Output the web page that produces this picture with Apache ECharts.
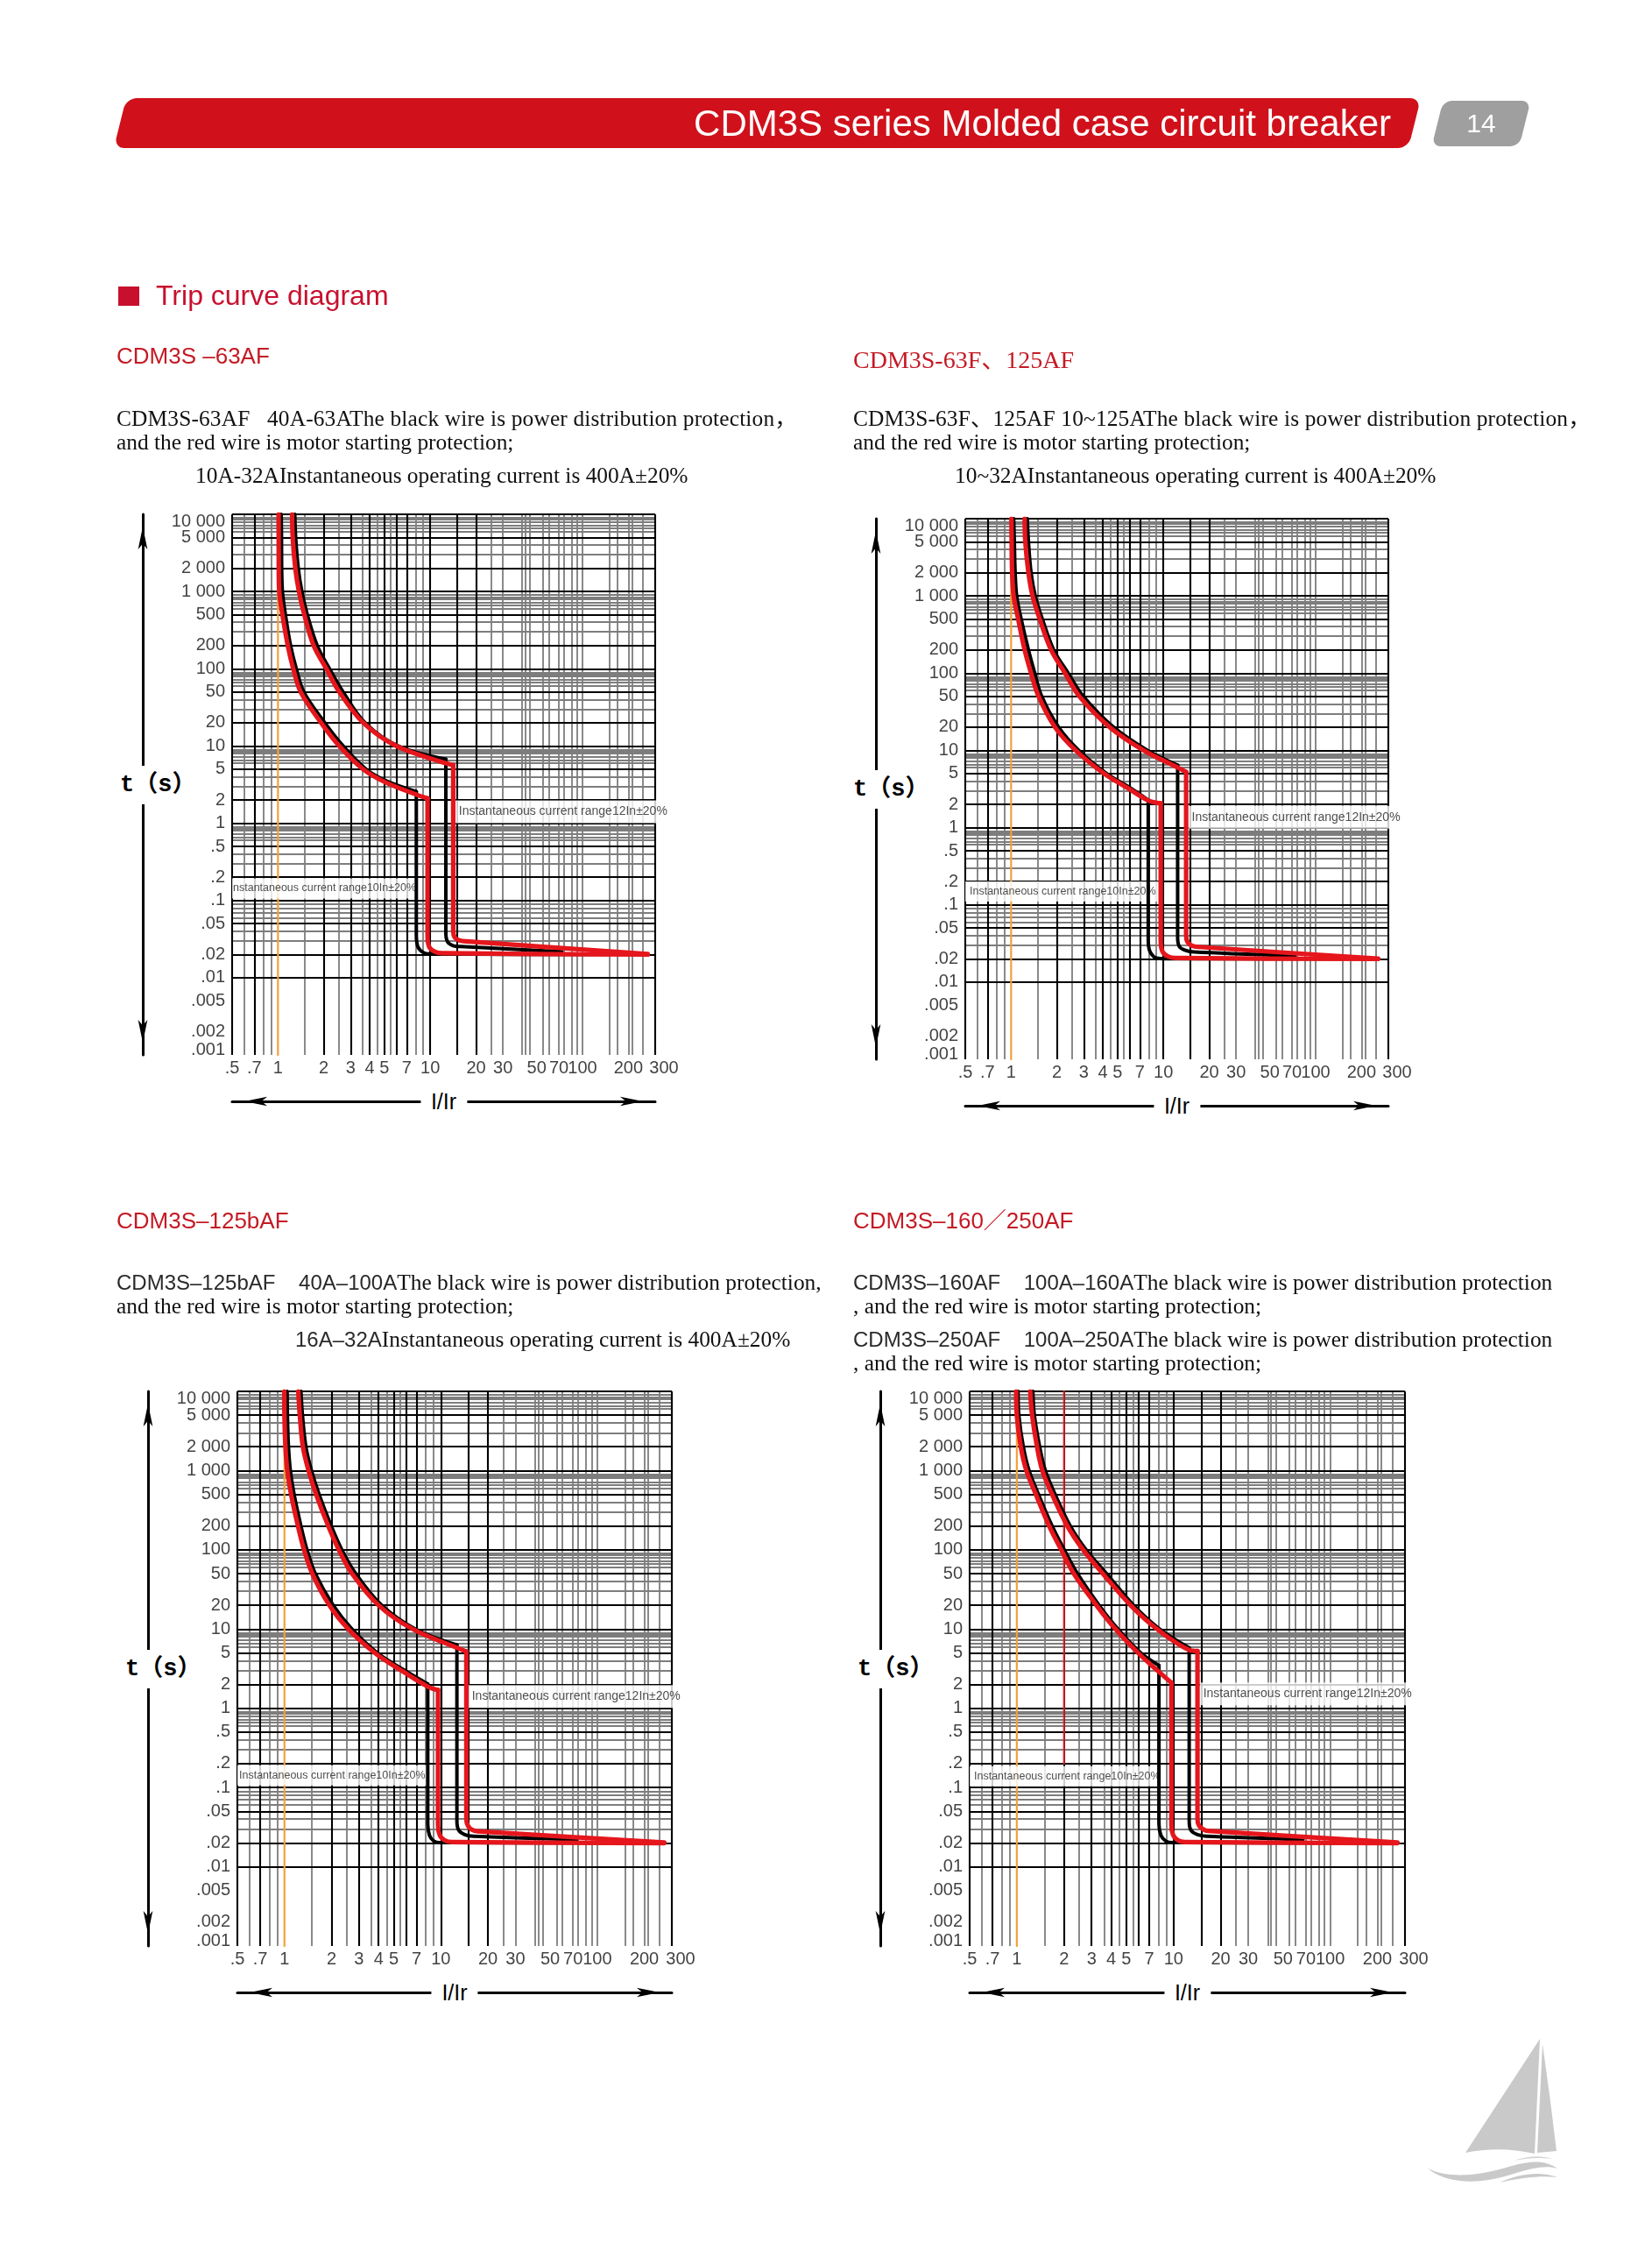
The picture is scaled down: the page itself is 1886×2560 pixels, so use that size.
<!DOCTYPE html>
<html>
<head>
<meta charset="utf-8">
<script src="https://cdn.jsdelivr.net/npm/echarts@6/dist/echarts.min.js"></script>
<style>
html,body{margin:0;padding:0;background:#fff;}
body{width:1886px;height:2560px;position:relative;overflow:hidden;}
#chart{position:absolute;left:0;top:0;width:1886px;height:2560px;z-index:1;}
.t{position:absolute;white-space:pre;line-height:30px;height:30px;z-index:3;}
.serif{font-family:'Liberation Serif','Noto Sans CJK SC',serif;font-size:25.4px;color:#111;}
.sans{font-family:'Liberation Sans','Noto Sans CJK SC',sans-serif;}
.ds{font-family:'Liberation Sans','Noto Sans CJK SC',sans-serif;font-size:24px;color:#2a2a2a;}
.red{color:#c41a24;}
.wide{letter-spacing:0.15px;}
.banner{position:absolute;left:137px;top:112px;width:1478px;height:57px;background:#d0111b;border-radius:12px;transform:skewX(-14deg);z-index:2;}
.bannerText{position:absolute;left:0;width:1588px;top:112px;height:57px;line-height:57px;text-align:right;color:#fff;font-family:'Liberation Sans',sans-serif;font-size:42px;z-index:3;white-space:pre;}
.tab{position:absolute;left:1641px;top:115px;width:100px;height:52px;background:#9f9f9f;border-radius:10px;transform:skewX(-14deg);z-index:2;}
.tabText{position:absolute;left:1641px;width:100px;top:115px;height:52px;line-height:52px;text-align:center;color:#fff;font-family:'Liberation Sans',sans-serif;font-size:30px;z-index:3;}
.sq{position:absolute;left:135px;top:327px;width:24px;height:22px;background:#c8102e;z-index:3;}
.axname{position:absolute;z-index:4;background:#fff;white-space:pre;color:#000;}
.iname{font-family:'Liberation Sans',sans-serif;font-size:25px;height:32px;line-height:32px;padding:0 12px;transform:translate(-50%,-50%);}
.tname{font-family:'Liberation Mono','Noto Sans CJK SC',monospace;font-weight:bold;font-size:27px;height:44px;line-height:44px;padding:0 2px;transform:translateY(-50%);}
#logo{position:absolute;left:1600px;top:2300px;z-index:3;}
</style>
</head>
<body>
<div id="chart"></div>

<div class="banner"></div>
<div class="bannerText">CDM3S series Molded case circuit breaker</div>
<div class="tab"></div>
<div class="tabText">14</div>

<div class="sq"></div>
<div class="t sans" style="left:178px;top:317px;height:40px;line-height:40px;font-size:32px;color:#c8102e;">Trip curve diagram</div>

<div class="t sans red" style="left:133px;top:391px;font-size:26px;">CDM3S –63AF</div>
<div class="t serif wide" style="left:133px;top:462px;">CDM3S-63AF   40A-63AThe black wire is power distribution protection，</div>
<div class="t serif" style="left:133px;top:489px;">and the red wire is motor starting protection;</div>
<div class="t serif" style="left:223px;top:527px;">10A-32AInstantaneous operating current is 400A±20%</div>

<div class="t serif red" style="left:974px;top:395px;font-size:28px;height:32px;line-height:32px;color:#c41a24;">CDM3S-63F、125AF</div>
<div class="t serif wide" style="left:974px;top:462px;">CDM3S-63F、125AF 10~125AThe black wire is power distribution protection，</div>
<div class="t serif" style="left:974px;top:489px;">and the red wire is motor starting protection;</div>
<div class="t serif" style="left:1090px;top:527px;">10~32AInstantaneous operating current is 400A±20%</div>

<div class="t sans red" style="left:133px;top:1378px;font-size:26px;">CDM3S–125bAF</div>
<div class="t serif" style="left:133px;top:1448px;"><span class="ds">CDM3S–125bAF    40A–100A</span>The black wire is power distribution protection,</div>
<div class="t serif" style="left:133px;top:1475px;">and the red wire is motor starting protection;</div>
<div class="t serif" style="left:337px;top:1513px;"><span class="ds">16A–32A</span>Instantaneous operating current is 400A±20%</div>

<div class="t sans red" style="left:974px;top:1378px;font-size:26px;">CDM3S–160／250AF</div>
<div class="t serif" style="left:974px;top:1448px;"><span class="ds">CDM3S–160AF    100A–160A</span>The black wire is power distribution protection</div>
<div class="t serif" style="left:974px;top:1475px;">, and the red wire is motor starting protection;</div>
<div class="t serif" style="left:974px;top:1513px;"><span class="ds">CDM3S–250AF    100A–250A</span>The black wire is power distribution protection</div>
<div class="t serif" style="left:974px;top:1540px;">, and the red wire is motor starting protection;</div>

<svg id="logo" width="200" height="220" viewBox="0 0 200 220">
  <path d="M158,27 L73,157 Q112,149 152,158 Z" fill="#c9c9c9"/>
  <path d="M161,33 L155,157 L177,155 Q170,95 161,33 Z" fill="#c9c9c9"/>
  <path d="M30,175 C55,195 95,192 128,181 C150,174 166,171 178,175 C166,166 150,165 126,172 C92,182 58,188 30,175 Z" fill="#c9c9c9"/>
  <path d="M112,191 C135,180 160,178 178,185 C160,183 138,185 112,191 Z" fill="#c9c9c9"/>
  <path d="M128,166 C145,160 160,160 172,164 C158,162 145,163 128,166 Z" fill="#d4d4d4"/>
</svg>

<script>
// ---------- axis ticks and grid values ----------
const xTickValues = [0.5, 0.7, 1, 2, 3, 4, 5, 7, 10, 20, 30, 50, 70, 100, 200, 300];
const xTickLabels = ['.5', '.7', '1', '2', '3', '4', '5', '7', '10', '20', '30', '50', '70', '100', '200', '300'];
const yTickValues = [10000, 5000, 2000, 1000, 500, 200, 100, 50, 20, 10, 5, 2, 1, 0.5, 0.2, 0.1, 0.05, 0.02, 0.01, 0.005, 0.002, 0.001];
const yTickLabels = ['10 000', '5 000', '2 000', '1 000', '500', '200', '100', '50', '20', '10', '5', '2', '1', '.5', '.2', '.1', '.05', '.02', '.01', '.005', '.002', '.001'];
const xGridMajor = [0.5, 0.7, 2, 3, 4, 5, 6, 7, 10, 15, 20, 300];
const xGridMinor = [0.6, 0.8, 0.9, 1.5, 2.5, 3.6, 4.5, 5.5, 8, 9, 25, 30, 40, 42, 45, 55, 60, 70, 75, 85, 92, 100, 150, 170, 200, 212, 250];
const yMinorSteps = [0.9, 0.85, 0.8, 0.72, 0.66, 0.6, 0.4, 0.3];
const yDecadeTops = [10000, 1000, 100, 10, 1, 0.1, 0.01];
const yGridMajor = yTickValues;
const yGridMinor = yDecadeTops.flatMap(t => yMinorSteps.map(s => +(t * s).toPrecision(6)));
const ratedLine = [[1, 0.001], [1, 10000]];
const c4MarkerLine = [[2, 10000], [2, 0.2]];

// ---------- chart 1: CDM3S-63AF ----------
const c1LowBlack = [[1.05,10000],[1.055,5000],[1.058,2000],[1.07,1000],[1.12,500],[1.21,200],[1.32,100],[1.48,50],[2.03,20],[2.68,10],[3.8,5],[5.2,3.5],[8.1,2.57]];
const c1LowRed = [[1.01,10000],[1.011,5000],[1.012,2000],[1.02,1000],[1.07,500],[1.16,200],[1.26,100],[1.41,50],[1.92,20],[2.53,10],[3.63,5],[5.06,3.4],[8.1,2.35],[9.6,2.1]];
const c1HighBlack = [[1.29,10000],[1.307,5000],[1.36,2000],[1.436,1000],[1.56,500],[1.81,200],[2.18,100],[2.68,50],[3.73,20],[6.15,10],[12.66,6.73]];
const c1HighRed = [[1.24,10000],[1.25,5000],[1.30,2000],[1.374,1000],[1.49,500],[1.715,200],[2.08,100],[2.53,50],[3.63,20],[5.98,10],[12.6,6.0],[14.15,5.65]];
const c1LowBlackInst = [[8.1,2.57],[8.1,0.036],[8.3,0.025],[9.0,0.0212],[9.9,0.0203],[150,0.02]];
const c1LowRedInst = [[9.6,2.1],[9.6,0.034],[9.85,0.025],[10.7,0.0218],[12,0.0208],[268,0.0199]];
const c1HighBlackInst = [[12.66,6.73],[12.66,0.038],[13.0,0.029],[14.1,0.026],[15.8,0.0253],[73,0.0217]];
const c1HighRedInst = [[14.15,5.65],[14.15,0.04],[14.5,0.033],[15.5,0.0305],[17.2,0.0295],[268,0.0203]];
const c1Notes = [
  {x: 0.5, y: 0.143, text: 'nstantaneous current range10In±20%'},
  {x: 14.6, y: 1.41, text: 'Instantaneous current range12In±20%'}
];

// ---------- chart 2: CDM3S-63F / 125AF ----------
const c2LowBlack = [[1.04,10000],[1.05,5000],[1.063,2000],[1.088,1000],[1.165,500],[1.30,200],[1.43,100],[1.59,50],[2.05,20],[2.78,10],[4.24,5],[6.08,3.25],[7.95,2.27]];
const c2LowRed = [[1.005,10000],[1.008,5000],[1.016,2000],[1.039,1000],[1.113,500],[1.227,200],[1.352,100],[1.515,50],[1.94,20],[2.65,10],[4.08,5],[5.91,3.2],[7.95,2.25],[9.6,2.06]];
const c2HighBlack = [[1.277,10000],[1.30,5000],[1.352,2000],[1.44,1000],[1.605,500],[1.905,200],[2.37,100],[2.98,50],[4.7,20],[7.86,10],[12.4,6.44]];
const c2HighRed = [[1.227,10000],[1.24,5000],[1.30,2000],[1.383,1000],[1.542,500],[1.83,200],[2.26,100],[2.81,50],[4.44,20],[7.43,10],[12.4,6.0],[14.1,5.25]];
const c2LowBlackInst = [[7.95,2.27],[7.95,0.035],[8.15,0.025],[8.8,0.0208],[9.9,0.0201],[150,0.02]];
const c2LowRedInst = [[9.6,2.06],[9.6,0.034],[9.85,0.025],[10.7,0.0215],[12,0.0205],[257,0.0199]];
const c2HighBlackInst = [[12.4,6.44],[12.4,0.038],[12.7,0.029],[13.8,0.026],[16,0.0245],[73,0.0218]];
const c2HighRedInst = [[14.1,5.25],[14.1,0.04],[14.4,0.033],[15.4,0.0295],[17,0.0285],[257,0.0201]];
const c2Notes = [
  {x: 0.5, y: 0.149, text: 'Instantaneous current range10In±20%'},
  {x: 14.55, y: 1.36, text: 'Instantaneous current range12In±20%'}
];

// ---------- chart 3: CDM3S-125bAF ----------
const c3LowBlack = [[1.04,10000],[1.045,5000],[1.061,2000],[1.091,1000],[1.153,500],[1.275,200],[1.394,100],[1.576,50],[2.048,20],[2.705,10],[3.93,5],[5.81,3.05],[8.25,2.03]];
const c3LowRed = [[0.998,10000],[1.0,5000],[1.015,2000],[1.043,1000],[1.103,500],[1.22,200],[1.334,100],[1.507,50],[1.937,20],[2.56,10],[3.78,5],[5.585,3.0],[8.25,1.88],[9.59,1.70]];
const c3HighBlack = [[1.275,10000],[1.304,5000],[1.371,2000],[1.49,1000],[1.666,500],[1.992,200],[2.328,100],[2.86,50],[4.18,20],[6.865,10],[12.67,6.29]];
const c3HighRed = [[1.226,10000],[1.254,5000],[1.312,2000],[1.426,1000],[1.594,500],[1.905,200],[2.227,100],[2.705,50],[3.995,20],[6.6,10],[12.67,5.8],[14.56,5.22]];
const c3LowBlackInst = [[8.25,2.03],[8.25,0.035],[8.45,0.025],[9.0,0.0212],[9.8,0.0202],[150,0.02]];
const c3LowRedInst = [[9.59,1.70],[9.59,0.034],[9.85,0.025],[10.6,0.0215],[11.8,0.0205],[268,0.0199]];
const c3HighBlackInst = [[12.67,6.29],[12.67,0.038],[13.0,0.029],[14.2,0.0255],[16.1,0.0243],[74,0.022]];
const c3HighRedInst = [[14.56,5.22],[14.56,0.04],[14.9,0.033],[15.8,0.0293],[17.2,0.028],[268,0.0202]];
const c3Notes = [
  {x: 0.5, y: 0.142, text: 'Instantaneous current range10In±20%'},
  {x: 15.0, y: 1.41, text: 'Instantaneous current range12In±20%'}
];

// ---------- chart 4: CDM3S-160/250AF ----------
const c4LowBlack = [[1.018,10000],[1.03,5000],[1.10,2000],[1.197,1000],[1.376,500],[1.68,200],[2.01,100],[2.44,50],[3.35,20],[4.42,10],[6.18,5],[8.07,3.47]];
const c4LowRed = [[0.991,10000],[1.0,5000],[1.06,2000],[1.151,1000],[1.324,500],[1.608,200],[1.921,100],[2.31,50],[3.22,20],[4.26,10],[5.94,5],[8.07,2.88],[9.69,2.1]];
const c4HighBlack = [[1.266,10000],[1.294,5000],[1.399,2000],[1.521,1000],[1.757,500],[2.195,200],[2.77,100],[3.74,50],[5.56,20],[8.16,10],[12.59,5.79]];
const c4HighRed = [[1.218,10000],[1.252,5000],[1.346,2000],[1.455,1000],[1.68,500],[2.10,200],[2.65,100],[3.54,50],[5.32,20],[7.85,10],[12.59,5.45],[14.22,5.28]];
const c4LowBlackInst = [[8.07,3.47],[8.07,0.035],[8.3,0.025],[8.9,0.0212],[9.8,0.0202],[150,0.02]];
const c4LowRedInst = [[9.69,2.1],[9.69,0.034],[9.95,0.025],[10.7,0.0215],[11.8,0.0205],[268,0.0199]];
const c4HighBlackInst = [[12.59,5.79],[12.59,0.038],[12.9,0.029],[14.2,0.0255],[16.2,0.0243],[67,0.0221]];
const c4HighRedInst = [[14.22,5.28],[14.22,0.04],[14.55,0.033],[15.6,0.0293],[16.6,0.0283],[268,0.0202]];
const c4Notes = [
  {x: 0.5, y: 0.139, text: 'Instantaneous current range10In±20%'},
  {x: 14.7, y: 1.52, text: 'Instantaneous current range12In±20%'}
];

// ---------- layout (pixels) ----------
const grids = [
  {left: 265, top: 587, width: 483, height: 617},
  {left: 1102, top: 592, width: 483, height: 617},
  {left: 271, top: 1588, width: 496, height: 633},
  {left: 1107, top: 1588, width: 497, height: 633}
];
const lowNotePadLeft = [1, 5, 2, 5];
const ARROW_X_OFFSET = 53;
const ARROW_Y_OFFSET = 102;

const charts = [
  {low: [c1LowBlack, c1LowRed], high: [c1HighBlack, c1HighRed], inst: [c1LowBlackInst, c1LowRedInst, c1HighBlackInst, c1HighRedInst], notes: c1Notes, marker: null},
  {low: [c2LowBlack, c2LowRed], high: [c2HighBlack, c2HighRed], inst: [c2LowBlackInst, c2LowRedInst, c2HighBlackInst, c2HighRedInst], notes: c2Notes, marker: null},
  {low: [c3LowBlack, c3LowRed], high: [c3HighBlack, c3HighRed], inst: [c3LowBlackInst, c3LowRedInst, c3HighBlackInst, c3HighRedInst], notes: c3Notes, marker: null},
  {low: [c4LowBlack, c4LowRed], high: [c4HighBlack, c4HighRed], inst: [c4LowBlackInst, c4LowRedInst, c4HighBlackInst, c4HighRedInst], notes: c4Notes, marker: c4MarkerLine}
];

const BLACK = '#000000';
const RED = '#e5161c';
const SANS = "'Liberation Sans', Arial, sans-serif";

const option = {animation: false, grid: [], xAxis: [], yAxis: [], series: []};

function noAxisParts() {
  return {axisTick: {show: false}, axisLabel: {show: false}, splitLine: {show: false}, minorTick: {show: false}, minorSplitLine: {show: false}};
}

function gridLines(xi, yi, xs, ys, color, width, z) {
  return {
    type: 'line', xAxisIndex: xi, yAxisIndex: yi, data: [], silent: true, z: z,
    markLine: {
      silent: true, animation: false, z: z, symbol: ['none', 'none'],
      label: {show: false}, emphasis: {disabled: true},
      lineStyle: {color: color, width: width, type: 'solid', opacity: 1},
      data: xs.map(v => ({xAxis: v})).concat(ys.map(v => ({yAxis: v})))
    }
  };
}

function curve(xi, yi, pts, color, width, smooth, z) {
  return {
    type: 'line', xAxisIndex: xi, yAxisIndex: yi, data: pts, smooth: smooth,
    symbol: 'none', silent: true, z: z, animation: false,
    lineStyle: {color: color, width: width, cap: 'round', join: 'round'}
  };
}

grids.forEach((g, i) => {
  const d = charts[i];
  option.grid.push({left: g.left, top: g.top, width: g.width, height: g.height, containLabel: false, outerBoundsMode: 'none', show: false});
  option.xAxis.push(Object.assign({type: 'log', logBase: 10, gridIndex: i, min: 0.5, max: 300, position: 'bottom', axisLine: {show: false}}, noAxisParts()));
  option.yAxis.push(Object.assign({type: 'log', logBase: 10, gridIndex: i, min: 0.001, max: 10000, position: 'left', axisLine: {show: false}}, noAxisParts()));
  option.xAxis.push(Object.assign({
    type: 'value', gridIndex: i, min: 0, max: 1, position: 'bottom', offset: ARROW_X_OFFSET,
    axisLine: {show: true, onZero: false, symbol: ['arrow', 'arrow'], symbolSize: [8, 26], symbolOffset: [14, -14], lineStyle: {color: BLACK, width: 3}}
  }, noAxisParts()));
  option.yAxis.push(Object.assign({
    type: 'value', gridIndex: i, min: 0, max: 1, position: 'left', offset: ARROW_Y_OFFSET,
    axisLine: {show: true, onZero: false, symbol: ['arrow', 'arrow'], symbolSize: [8, 26], symbolOffset: [14, -14], lineStyle: {color: BLACK, width: 3}}
  }, noAxisParts()));

  const xi = 2 * i, yi = 2 * i;
  option.series.push(gridLines(xi, yi, xGridMinor, yGridMinor, '#7d7d7d', 1.8, 1));
  option.series.push(gridLines(xi, yi, xGridMajor, yGridMajor, '#000', 2.1, 2));
  option.series.push(curve(xi, yi, ratedLine, '#f2a03d', 2.2, false, 6));
  if (d.marker) option.series.push(curve(xi, yi, d.marker, '#e8202a', 2, false, 6));

  option.series.push(curve(xi, yi, d.low[0], BLACK, 4, 0.35, 10));
  option.series.push(curve(xi, yi, d.high[0], BLACK, 4, 0.35, 10));
  option.series.push(curve(xi, yi, d.inst[0], BLACK, 4, 0.25, 10));
  option.series.push(curve(xi, yi, d.inst[2], BLACK, 4, 0.25, 10));
  option.series.push(curve(xi, yi, d.low[1], RED, 5.2, 0.35, 11));
  option.series.push(curve(xi, yi, d.high[1], RED, 5.2, 0.35, 11));
  option.series.push(curve(xi, yi, d.inst[1], RED, 5.2, 0.25, 11));
  option.series.push(curve(xi, yi, d.inst[3], RED, 5.2, 0.25, 11));

  option.series.push({
    type: 'scatter', xAxisIndex: xi, yAxisIndex: yi, symbolSize: 0, silent: true, clip: false, z: 8,
    data: d.notes.map((n, k) => ({
      value: [n.x, n.y],
      label: {
        formatter: n.text,
        fontSize: k === 0 ? 12.5 : 14,
        padding: k === 0 ? [5, 4, 5, lowNotePadLeft[i]] : [6, 4, 6, 4]
      }
    })),
    label: {show: true, position: 'right', distance: 0, color: '#222', fontFamily: SANS, backgroundColor: '#fff'}
  });

  option.series.push({
    type: 'scatter', xAxisIndex: xi, yAxisIndex: yi, symbolSize: 0, silent: true, clip: false, z: 20,
    data: xTickValues.map((v, k) => {
      const item = {value: [v, 0.001]};
      if (k === xTickValues.length - 1) item.label = {offset: [10, 0]};
      return item;
    }),
    label: {show: true, position: 'bottom', distance: 5, fontSize: 20, fontFamily: SANS, color: '#111', formatter: p => xTickLabels[p.dataIndex]}
  });
  option.series.push({
    type: 'scatter', xAxisIndex: xi, yAxisIndex: yi, symbolSize: 0, silent: true, clip: false, z: 20,
    data: yTickValues.map((v, k) => {
      const item = {value: [0.5, v]};
      if (k === 0) item.label = {offset: [0, 8]};
      if (k === yTickValues.length - 1) item.label = {offset: [0, -6]};
      return item;
    }),
    label: {show: true, position: 'left', distance: 8, fontSize: 20, fontFamily: SANS, color: '#111', formatter: p => yTickLabels[p.dataIndex]}
  });

  const iName = document.createElement('div');
  iName.className = 'axname iname';
  iName.textContent = 'I/Ir';
  iName.style.left = (g.left + g.width / 2) + 'px';
  iName.style.top = (g.top + g.height + ARROW_X_OFFSET) + 'px';
  document.body.appendChild(iName);
  const tName = document.createElement('div');
  tName.className = 'axname tname';
  tName.textContent = 't（s）';
  tName.style.left = (g.left - ARROW_Y_OFFSET - 28) + 'px';
  tName.style.top = (g.top + g.height / 2) + 'px';
  document.body.appendChild(tName);
});

const chart = echarts.init(document.getElementById('chart'), null, {renderer: 'canvas', width: 1886, height: 2560});
chart.setOption(option);
</script>
</body>
</html>
